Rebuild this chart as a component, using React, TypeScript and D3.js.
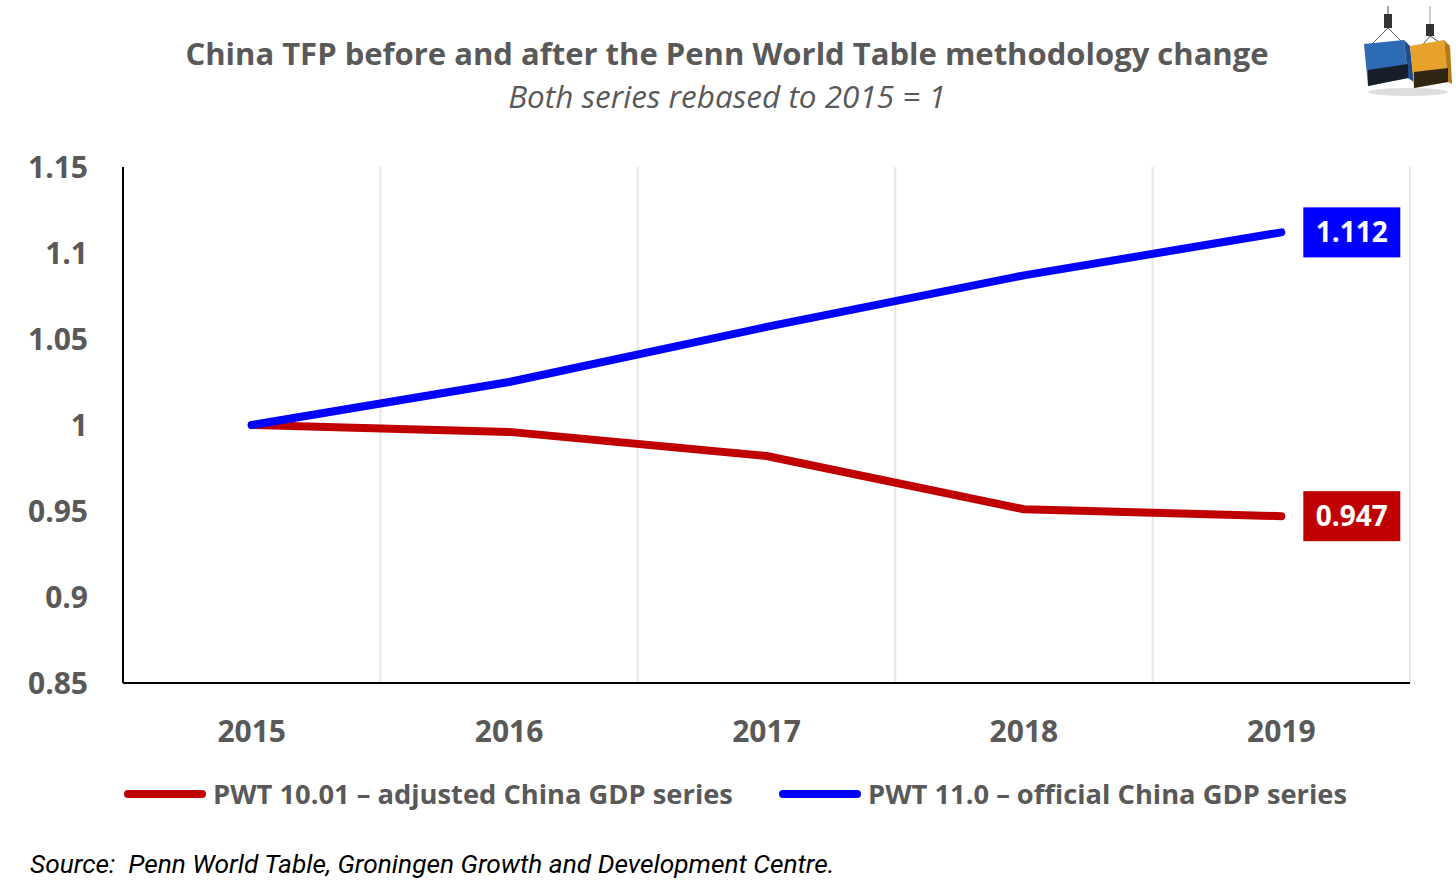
import React from 'react';
import * as d3 from 'd3';

const years = ['2015', '2016', '2017', '2018', '2019'];
const pwt10Values = [1.0, 0.996, 0.982, 0.951, 0.947];
const pwt11Values = [1.0, 1.025, 1.057, 1.087, 1.112];
const yTicks = [0.85, 0.9, 0.95, 1, 1.05, 1.1, 1.15];

const seriesList = [
  { name: 'PWT 10.01 – adjusted China GDP series', values: pwt10Values, color: '#C00000' },
  { name: 'PWT 11.0 – official China GDP series', values: pwt11Values, color: '#0000FF' },
];

const W = 1456;
const H = 882;
const margin = { top: 167, right: 46, bottom: 199, left: 123 };
const FONT = '"Open Sans", "Noto Sans", sans-serif';
const GREY = '#595959';

// little container-crane logo, top right
const Logo = () => (
  <g transform="translate(1360,6)">
    <line x1={28} y1={0} x2={28} y2={22} stroke="#888" strokeWidth={1.5} />
    <line x1={70} y1={0} x2={70} y2={22} stroke="#bbb" strokeWidth={1.5} />
    <rect x={24} y={8} width={8} height={14} fill="#333" />
    <rect x={66} y={18} width={8} height={12} fill="#333" />
    <path d="M28,22 L12,38 M28,22 L44,38" stroke="#555" strokeWidth={1} />
    <path d="M70,30 L60,42 M70,30 L82,38" stroke="#555" strokeWidth={1} />
    <polygon points="4,38 44,34 48,72 8,80" fill="#2E6BB5" />
    <polygon points="44,34 50,40 54,76 48,72" fill="#1D4F8C" />
    <polygon points="8,64 48,58 48,72 8,80" fill="#111" opacity={0.85} />
    <polygon points="50,40 84,34 88,76 54,82" fill="#E6A22B" />
    <polygon points="84,34 90,40 92,78 88,76" fill="#B67A14" />
    <polygon points="54,66 88,62 88,76 54,82" fill="#111" opacity={0.85} />
    <ellipse cx={48} cy={86} rx={40} ry={4} fill="#ddd" />
  </g>
);

export default function App() {
  const innerW = W - margin.left - margin.right;
  const innerH = H - margin.top - margin.bottom;

  const x = d3.scaleBand().domain(years).range([0, innerW]);
  const y = d3.scaleLinear().domain([0.85, 1.15]).range([innerH, 0]);
  const cx = (yr: string) => (x(yr) ?? 0) + x.bandwidth() / 2;

  const line = d3
    .line<number>()
    .x((_, i) => cx(years[i]))
    .y(d => y(d));

  const last = years[years.length - 1];

  return (
    <svg width={W} height={H} style={{ position: 'absolute', left: 0, top: 0, background: '#fff' }}>
      <text x={727} y={65} textAnchor="middle" fontFamily={FONT} fontWeight={700} fontSize={31} fill={GREY}>
        China TFP before and after the Penn World Table methodology change
      </text>
      <text x={727} y={108} textAnchor="middle" fontFamily={FONT} fontStyle="italic" fontSize={31.5} fill={GREY}>
        Both series rebased to 2015 = 1
      </text>
      <Logo />

      <g transform={`translate(${margin.left},${margin.top})`}>
        {years.map(yr => (
          <line
            key={yr}
            x1={(x(yr) ?? 0) + x.bandwidth()}
            x2={(x(yr) ?? 0) + x.bandwidth()}
            y1={0}
            y2={innerH}
            stroke="#E6E6E6"
            strokeWidth={2}
          />
        ))}
        <line x1={0} x2={0} y1={0} y2={innerH} stroke="#000" strokeWidth={2} />
        <line x1={0} x2={innerW} y1={innerH} y2={innerH} stroke="#000" strokeWidth={2} />

        {yTicks.map(t => (
          <text
            key={t}
            x={-35}
            y={y(t)}
            dy="0.35em"
            textAnchor="end"
            fontFamily={FONT}
            fontWeight={700}
            fontSize={30}
            fill={GREY}
          >
            {d3.format('~g')(t)}
          </text>
        ))}
        {years.map(yr => (
          <text
            key={yr}
            x={cx(yr)}
            y={innerH + 48}
            dy="0.35em"
            textAnchor="middle"
            fontFamily={FONT}
            fontWeight={700}
            fontSize={30}
            fill={GREY}
          >
            {yr}
          </text>
        ))}

        {seriesList.map(s => (
          <path
            key={s.name}
            d={line(s.values) ?? ''}
            fill="none"
            stroke={s.color}
            strokeWidth={8}
            strokeLinecap="round"
            strokeLinejoin="round"
          />
        ))}

        {seriesList.map(s => {
          const v = s.values[s.values.length - 1];
          return (
            <g key={s.name} transform={`translate(${cx(last) + 22},${y(v)})`}>
              <rect x={0} y={-25} width={97} height={50} fill={s.color} />
              <text
                x={48.5}
                y={0}
                dy="0.35em"
                textAnchor="middle"
                fontFamily={FONT}
                fontWeight={700}
                fontSize={28}
                fill="#fff"
              >
                {d3.format('.3f')(v)}
              </text>
            </g>
          );
        })}
      </g>

      {seriesList.map((s, i) => {
        const lx = i === 0 ? 128 : 783;
        return (
          <g key={s.name} transform={`translate(${lx},794)`}>
            <line x1={0} x2={74} y1={0} y2={0} stroke={s.color} strokeWidth={8} strokeLinecap="round" />
            <text x={85} y={0} dy="0.35em" fontFamily={FONT} fontWeight={700} fontSize={27.3} fill={GREY}>
              {s.name}
            </text>
          </g>
        );
      })}

      <text x={30} y={864} dy="0.35em" fontFamily="Roboto, sans-serif" fontStyle="italic" fontSize={26.3} fill="#000">
        {'Source:\u00A0\u00A0Penn World Table, Groningen Growth and Development Centre.'}
      </text>
    </svg>
  );
}
